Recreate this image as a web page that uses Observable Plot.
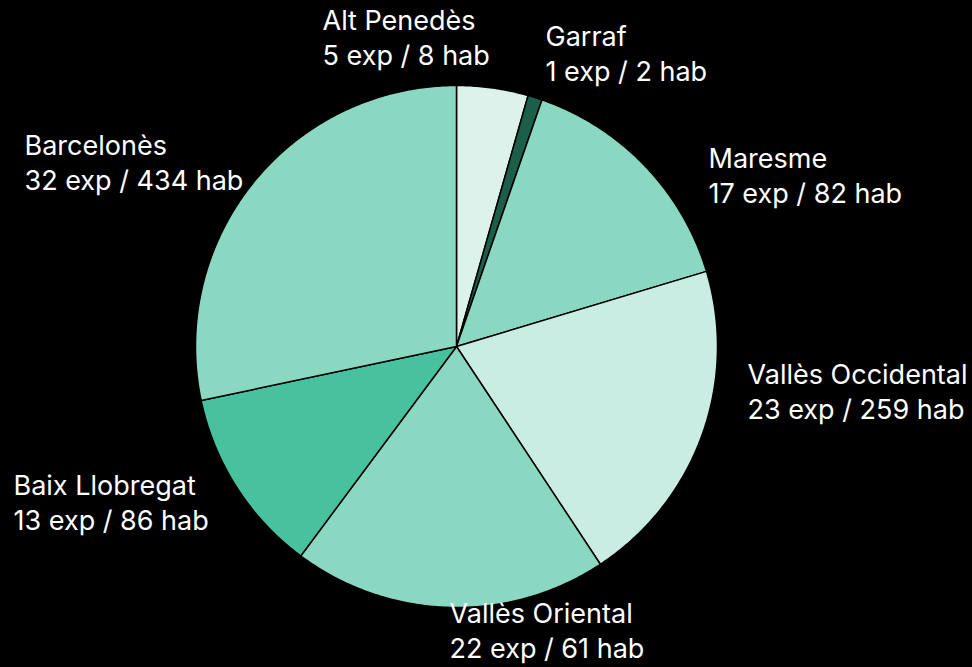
<!DOCTYPE html>
<html>
<head>
<meta charset="utf-8">
<script src="https://cdn.jsdelivr.net/npm/d3@7"></script>
<script src="https://cdn.jsdelivr.net/npm/@observablehq/plot@0.6"></script>
<style>
  html, body { margin: 0; padding: 0; background: #000; }
  #chart { width: 972px; height: 667px; }
</style>
</head>
<body>
<div id="chart"></div>
<script>
// ---- data ----
const comarques = ["Alt Penedès", "Garraf", "Maresme", "Vallès Occidental", "Vallès Oriental", "Baix Llobregat", "Barcelonès"];
const expedients = [5, 1, 17, 23, 22, 13, 32];
const habitatges = [8, 2, 82, 259, 61, 86, 434];
const sliceColors = ["#dcf2eb", "#1b5e49", "#8ad8c2", "#c9ece3", "#8ad8c2", "#48c29e", "#8ad8c2"];

// ---- layout (pixels) ----
const W = 972, H = 667;
const cx = 456, cy = 346, R = 261;
// label top-left anchors
const labelPos = [[322, 4], [545, 20], [708, 142], [747, 358], [449, 597], [13, 469], [24, 129]];

const pie = d3.pie().sort(null).value(d => d.exp);
const rows = comarques.map((name, i) => ({name, exp: expedients[i], hab: habitatges[i], color: sliceColors[i], i}));
const arcs = pie(rows);

const pts = [];
for (const a of arcs) {
  const n = Math.max(2, Math.ceil((a.endAngle - a.startAngle) / (Math.PI / 360)));
  pts.push({name: a.data.name, color: a.data.color, x: cx, y: cy});
  for (let k = 0; k <= n; k++) {
    const t = a.startAngle + (a.endAngle - a.startAngle) * k / n;
    pts.push({name: a.data.name, color: a.data.color, x: cx + R * Math.sin(t), y: cy - R * Math.cos(t)});
  }
}

const labels = rows.map((d, i) => ({
  x: labelPos[i][0], y: labelPos[i][1],
  text: `${d.name}\n${d.exp} exp / ${d.hab} hab`
}));

const chart = Plot.plot({
  width: W, height: H,
  margin: 0,
  style: {background: "#000", fontFamily: "Inter, 'Noto Sans', sans-serif"},
  x: {domain: [0, W], range: [0, W], axis: null},
  y: {domain: [0, H], range: [0, H], axis: null},
  color: {type: "identity"},
  marks: [
    Plot.line(pts, {x: "x", y: "y", z: "name", fill: "color", stroke: "#000", strokeWidth: 1.5, curve: "linear-closed", strokeLinejoin: "round"}),
    Plot.text(labels, {x: "x", y: "y", text: "text", fill: "#fff", fontSize: 27, textAnchor: "start", lineAnchor: "top", lineHeight: 1.31})
  ]
});
document.getElementById("chart").append(chart);
</script>
</body>
</html>
